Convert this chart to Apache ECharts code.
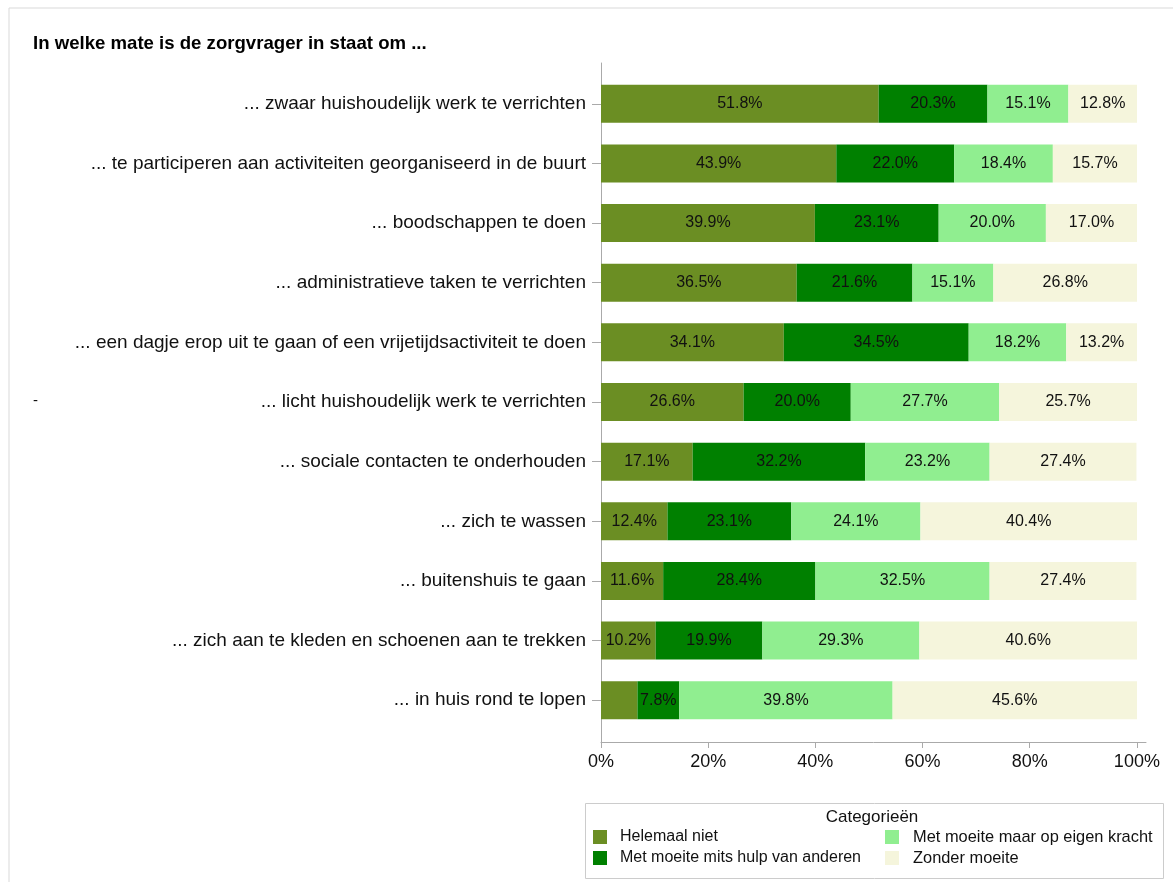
<!DOCTYPE html>
<html>
<head>
<meta charset="utf-8">
<title>Zorgvrager zelfredzaamheid</title>
<script src="https://cdn.jsdelivr.net/npm/echarts@6/dist/echarts.min.js"></script>
<style>
  html, body { margin: 0; padding: 0; background: #ffffff; }
  #chart { width: 1173px; height: 882px; }
</style>
</head>
<body>
<div id="chart"></div>
<script>
// Activities, listed top to bottom
var categories = [
  '... zwaar huishoudelijk werk te verrichten',
  '... te participeren aan activiteiten georganiseerd in de buurt',
  '... boodschappen te doen',
  '... administratieve taken te verrichten',
  '... een dagje erop uit te gaan of een vrijetijdsactiviteit te doen',
  '... licht huishoudelijk werk te verrichten',
  '... sociale contacten te onderhouden',
  '... zich te wassen',
  '... buitenshuis te gaan',
  '... zich aan te kleden en schoenen aan te trekken',
  '... in huis rond te lopen'
];

// Shares per answer category (%)
var helemaalNiet   = [51.8, 43.9, 39.9, 36.5, 34.1, 26.6, 17.1, 12.4, 11.6, 10.2, 6.8];
var metHulp        = [20.3, 22.0, 23.1, 21.6, 34.5, 20.0, 32.2, 23.1, 28.4, 19.9, 7.8];
var eigenKracht    = [15.1, 18.4, 20.0, 15.1, 18.2, 27.7, 23.2, 24.1, 32.5, 29.3, 39.8];
var zonderMoeite   = [12.8, 15.7, 17.0, 26.8, 13.2, 25.7, 27.4, 40.4, 27.4, 40.6, 45.6];

var seriesNames = [
  'Helemaal niet',
  'Met moeite mits hulp van anderen',
  'Met moeite maar op eigen kracht',
  'Zonder moeite'
];
var seriesColors = ['#6B8E23', '#008000', '#90EE90', '#F5F5DC'];

var xTicks = [0, 20, 40, 60, 80, 100];

var FONT = '"Liberation Sans", Arial, sans-serif';

function makeSeries(name, values, color) {
  return {
    name: name,
    type: 'bar',
    stack: 'totaal',
    xAxisIndex: 0,
    yAxisIndex: 0,
    barWidth: 38,
    data: values,
    itemStyle: { color: color },
    label: {
      show: true,
      position: 'inside',
      color: '#111111',
      fontFamily: FONT,
      fontSize: 16,
      formatter: function (p) {
        return p.value < 7 ? '' : p.value.toFixed(1) + '%';
      }
    },
    emphasis: { disabled: true }
  };
}

var chart = echarts.init(document.getElementById('chart'), null, { renderer: 'canvas' });

chart.setOption({
  animation: false,
  backgroundColor: '#ffffff',
  title: {
    text: 'In welke mate is de zorgvrager in staat om ...',
    left: 28,
    top: 29,
    textStyle: { fontFamily: FONT, fontSize: 18.6, fontWeight: 'bold', color: '#000000' }
  },
  grid: [
    // bars
    { left: 601, top: 74, width: 536, height: 656, containLabel: false },
    // axis frame
    { left: 601, top: 63, width: 545, height: 679, containLabel: false }
  ],
  xAxis: [
    {
      type: 'value', gridIndex: 0, min: 0, max: 100,
      show: false
    },
    {
      type: 'value', gridIndex: 1, min: 0, max: 101.7,
      axisLine: { show: true, lineStyle: { color: '#aaaaaa', width: 1 } },
      axisTick: { show: true, length: 6, customValues: xTicks, lineStyle: { color: '#aaaaaa' } },
      axisLabel: {
        customValues: xTicks,
        margin: 11,
        color: '#111111',
        fontFamily: FONT,
        fontSize: 18,
        formatter: function (v) { return v + '%'; }
      },
      splitLine: { show: false }
    }
  ],
  yAxis: [
    {
      type: 'category', gridIndex: 0, inverse: true,
      data: categories,
      axisLine: { show: false },
      axisTick: { show: true, length: 9, alignWithLabel: true, lineStyle: { color: '#aaaaaa' } },
      axisLabel: { margin: 15, color: '#111111', fontFamily: FONT, fontSize: 19 }
    },
    {
      type: 'value', gridIndex: 1, min: 0, max: 1,
      axisLine: { show: true, lineStyle: { color: '#aaaaaa', width: 1 } },
      axisTick: { show: false },
      axisLabel: { show: false },
      splitLine: { show: false }
    }
  ],
  legend: [
    {
      data: [seriesNames[0], seriesNames[1]],
      orient: 'vertical',
      left: 588, top: 824,
      itemWidth: 14, itemHeight: 14, itemGap: 5,
      icon: 'rect',
      selectedMode: false,
      textStyle: { fontFamily: FONT, fontSize: 16, color: '#111111', padding: [0, 0, 0, 8] }
    },
    {
      data: [seriesNames[2], seriesNames[3]],
      orient: 'vertical',
      left: 880, top: 824,
      itemWidth: 14, itemHeight: 14, itemGap: 5,
      icon: 'rect',
      selectedMode: false,
      textStyle: { fontFamily: FONT, fontSize: 16.4, color: '#111111', padding: [0, 0, 0, 9] }
    }
  ],
  graphic: [
    // outer frame lines
    { type: 'line', shape: { x1: 9, y1: 8, x2: 1173, y2: 8 }, style: { stroke: '#d9d9d9', lineWidth: 1 }, silent: true },
    { type: 'line', shape: { x1: 9, y1: 8, x2: 9, y2: 882 }, style: { stroke: '#d9d9d9', lineWidth: 1 }, silent: true },
    // legend box
    { type: 'rect', shape: { x: 585.5, y: 803.5, width: 578, height: 75 }, style: { fill: 'none', stroke: '#cccccc', lineWidth: 1 }, silent: true },
    { type: 'text', x: 872, y: 817, style: { text: 'Categorieën', fontFamily: FONT, fontSize: 17, fill: '#111111', align: 'center', verticalAlign: 'middle' }, silent: true },
    { type: 'text', x: 33, y: 401, style: { text: '-', fontFamily: FONT, fontSize: 15, fill: '#111111', verticalAlign: 'middle' }, silent: true }
  ],
  series: [
    makeSeries(seriesNames[0], helemaalNiet, seriesColors[0]),
    makeSeries(seriesNames[1], metHulp, seriesColors[1]),
    makeSeries(seriesNames[2], eigenKracht, seriesColors[2]),
    makeSeries(seriesNames[3], zonderMoeite, seriesColors[3])
  ]
});
</script>
</body>
</html>
